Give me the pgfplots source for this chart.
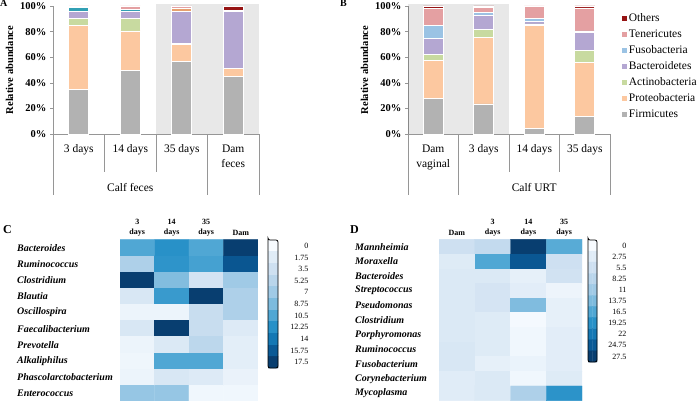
\documentclass[border=0pt]{standalone}
\usepackage{fontspec}
\setmainfont{Liberation Serif}
\usepackage{pgfplots}
\pgfplotsset{compat=1.18}
\definecolor{firm}{RGB}{178,178,178}
\definecolor{proteo}{RGB}{252,200,160}
\definecolor{actino}{RGB}{200,218,160}
\definecolor{bacter}{RGB}{180,167,210}
\definecolor{fuso}{RGB}{155,195,228}
\definecolor{teneri}{RGB}{228,160,162}
\definecolor{others}{RGB}{150,20,20}
\definecolor{tealA}{RGB}{50,160,180}
\definecolor{orangeA}{RGB}{230,160,110}
\definecolor{axgray}{RGB}{150,150,150}
\pgfplotsset{
  colormap={heat}{rgb255(0)=(247,251,255) rgb255(1)=(247,251,255)
    rgb255(3)=(224,236,247) rgb255(5)=(206,224,241) rgb255(7)=(185,213,235)
    rgb255(9)=(160,202,230) rgb255(11)=(125,187,222) rgb255(13)=(80,167,212)
    rgb255(15)=(40,145,200) rgb255(17)=(20,120,180) rgb255(19)=(10,90,150)
    rgb255(21)=(8,62,112) rgb255(22)=(8,62,112)},
  sqleg/.style={legend image code/.code={\path[##1,draw=none] (0pt,-2.3pt) rectangle (4.6pt,2.3pt);}},
  barax/.style={scale only axis, height=128pt, ybar stacked, bar width=20pt,
    ymin=0, ymax=100, xmin=-0.5, xmax=3.5, clip=false,
    axis x line*=bottom, axis y line*=left, axis line style={axgray,-},
    xtick={0,1,2,3}, x tick style={draw=none},
    ytick={0,20,40,60,80,100}, yticklabels={0\%,20\%,40\%,60\%,80\%,100\%},
    y tick style={axgray}, tick align=outside, major tick length=3pt,
    yticklabel style={font=\fontsize{10.5}{12}\selectfont\bfseries},
    xticklabel style={font=\fontsize{11.5}{15}\selectfont, align=center, yshift=-4pt},
    ylabel={Relative abundance},
    ylabel style={font=\fontsize{10.5}{12}\selectfont\bfseries},
    every axis plot/.append style={draw=white, line width=0.8pt}},
  heat/.style={scale only axis, enlargelimits=false, xmin=-0.5, xmax=3.5,
    y dir=reverse, axis line style={draw=none}, tick style={draw=none},
    xtick={0,1,2,3}, xticklabel pos=upper,
    xticklabel style={align=center, font=\fontsize{8}{10}\selectfont\bfseries},
    yticklabel style={anchor=west, font=\fontsize{10}{12}\selectfont\bfseries\itshape},
    colormap name=heat},
  cbar/.style={scale only axis, enlargelimits=false, xmin=-0.5, xmax=1.5,
    ymin=-0.5, ymax=10.5, y dir=reverse, xtick=\empty, ytick={0,...,10},
    yticklabel pos=right, tick style={draw=none}, axis on top,
    axis line style={line width=0.8pt, rounded corners=2pt},
    yticklabel style={anchor=east, font=\fontsize{8}{9}\selectfont},
    colormap name=heat},
}
\begin{document}
\begin{tikzpicture}
\useasboundingbox (0pt,0pt) rectangle (700pt,400pt);
% ---------------- Panel A
\begin{axis}[barax, at={(53pt,266pt)}, anchor=south west, width=206pt,
  xticklabels={3 days,14 days,35 days,{Dam\\feces}}]
\addplot[fill=firm] coordinates {(0,35) (1,50) (2,56.5) (3,45)};
\addplot[fill=proteo] coordinates {(0,50) (1,30.5) (2,13.5) (3,6)};
\addplot[fill=actino] coordinates {(0,5) (1,9.5) (2,0.5) (3,0)};
\addplot[fill=bacter] coordinates {(0,5.5) (1,5.5) (2,25) (3,44.5)};
\addplot[fill=tealA] coordinates {(0,3.5) (1,2) (2,0) (3,0)};
\addplot[fill=orangeA] coordinates {(0,0) (1,0) (2,2.5) (3,0)};
\addplot[fill=teneri] coordinates {(0,1) (1,2.5) (2,2) (3,1)};
\addplot[fill=others] coordinates {(0,0) (1,0) (2,0) (3,3.5)};
\fill[black, opacity=0.09] (axis cs:1.5,0) rectangle (axis cs:3.5,101.5);
\draw[axgray] (axis cs:-0.5,0) -- ++(0pt,-61pt);
\draw[axgray] (axis cs:0.5,0) -- ++(0pt,-38pt);
\draw[axgray] (axis cs:1.5,0) -- ++(0pt,-38pt);
\draw[axgray] (axis cs:2.5,0) -- ++(0pt,-61pt);
\draw[axgray] (axis cs:3.5,0) -- ++(0pt,-61pt);
\node[font=\fontsize{11.5}{13}\selectfont] at (axis cs:1,0) [yshift=-54pt] {Calf feces};
\end{axis}
% ---------------- Panel B
\begin{axis}[barax, at={(408pt,266pt)}, anchor=south west, width=202pt,
  xticklabels={{Dam\\vaginal},3 days,14 days,35 days},
  reverse legend, legend cell align=left,
  legend style={at={(1.06,0.955)}, anchor=north west, draw=none, fill=none,
    font=\fontsize{11.5}{13}\selectfont, row sep=2.6pt, inner sep=0pt}]
\addplot[fill=firm, sqleg] coordinates {(0,27.5) (1,23.5) (2,4) (3,14)};
\addplot[fill=proteo, sqleg] coordinates {(0,30) (1,52) (2,80.5) (3,42)};
\addplot[fill=actino, sqleg] coordinates {(0,4.5) (1,6) (2,1.5) (3,9.5)};
\addplot[fill=bacter, sqleg] coordinates {(0,12.5) (1,11.5) (2,2) (3,13.5)};
\addplot[fill=fuso, sqleg] coordinates {(0,10.5) (1,2) (2,2) (3,1.5)};
\addplot[fill=teneri, sqleg] coordinates {(0,13) (1,3.7) (2,10) (3,18)};
\addplot[fill=others, sqleg] coordinates {(0,2) (1,1.3) (2,0) (3,1.5)};
\legend{Firmicutes,Proteobacteria,Actinobacteria,Bacteroidetes,Fusobacteria,Tenericutes,Others}
\fill[black, opacity=0.09] (axis cs:-0.5,0) rectangle (axis cs:1.5,101.5);
\draw[axgray] (axis cs:-0.5,0) -- ++(0pt,-61pt);
\draw[axgray] (axis cs:0.5,0) -- ++(0pt,-61pt);
\draw[axgray] (axis cs:1.5,0) -- ++(0pt,-38pt);
\draw[axgray] (axis cs:2.5,0) -- ++(0pt,-38pt);
\draw[axgray] (axis cs:3.5,0) -- ++(0pt,-61pt);
\node[font=\fontsize{11.5}{13}\selectfont] at (axis cs:2,0) [yshift=-54pt] {Calf URT};
\end{axis}
% ---------------- Panel C heatmap
\begin{axis}[heat, at={(120pt,-1.4pt)}, anchor=south west, width=138pt, height=161.8pt,
  ymin=-0.5, ymax=9.5, ytick={0,...,9},
  yticklabel style={xshift=-106.3pt},
  yticklabels={Bacteroides,Ruminococcus,Clostridium,Blautia,Oscillospira,Faecalibacterium,Prevotella,Alkaliphilus,Phascolarctobacterium,Enterococcus},
  xticklabels={{3\\days},{14\\days},{35\\days},{Dam}},
  point meta min=-0.875, point meta max=18.375]
\addplot[matrix plot*, mesh/cols=4, point meta=explicit] table[meta=c] {
x y c
0 0 10.5
1 0 12.25
2 0 10.5
3 0 17.5
0 1 6
1 1 12
2 1 11
3 1 16
0 2 17.5
1 2 8.5
2 2 3
3 2 7
0 3 2.5
1 3 11.5
2 3 17.5
3 3 6
0 4 0.8
1 4 0.8
2 4 4
3 4 6
0 5 2.5
1 5 17.5
2 5 4
3 5 2
0 6 0.8
1 6 2.2
2 6 5
3 6 1.5
0 7 0.6
1 7 10.5
2 7 10.5
3 7 1.5
0 8 0.8
1 8 2.5
2 8 2
3 8 1
0 9 7.5
1 9 7.5
2 9 0.5
3 9 0.5
};
\end{axis}
\begin{axis}[cbar, at={(268pt,160pt)}, anchor=north west, width=10pt, height=128pt,
  yticklabel style={xshift=34pt},
  yticklabels={0,1.75,3.5,5.25,7,8.75,10.5,12.25,14,15.75,17.5},
  point meta min=-0.875, point meta max=18.375]
\addplot[matrix plot*, mesh/cols=2, point meta=explicit] table[meta=c] {
x y c
0 0 0
1 0 0
0 1 1.75
1 1 1.75
0 2 3.5
1 2 3.5
0 3 5.25
1 3 5.25
0 4 7
1 4 7
0 5 8.75
1 5 8.75
0 6 10.5
1 6 10.5
0 7 12.25
1 7 12.25
0 8 14
1 8 14
0 9 15.75
1 9 15.75
0 10 17.5
1 10 17.5
};
\end{axis}
% ---------------- Panel D heatmap
\begin{axis}[heat, at={(439pt,-0.6pt)}, anchor=south west, width=143pt, height=161.2pt,
  ymin=-0.5, ymax=10.5, ytick={0,...,10},
  yticklabel style={xshift=-87.3pt},
  yticklabels={Mannheimia,Moraxella,Bacteroides,Streptococcus,Pseudomonas,Clostridium,Porphyromonas,Ruminococcus,Fusobacterium,Corynebacterium,Mycoplasma},
  xticklabels={{Dam},{3\\days},{14\\days},{35\\days}},
  point meta min=-1.375, point meta max=28.875]
\addplot[matrix plot*, mesh/cols=4, point meta=explicit] table[meta=c] {
x y c
0 0 5.5
1 0 7
2 0 27.5
3 0 16
0 1 3
1 1 16.5
2 1 25
3 1 5.5
0 2 3.5
1 2 3.5
2 2 2
3 2 5
0 3 3.5
1 3 4.5
2 3 2.5
3 3 1.2
0 4 3.5
1 4 4.5
2 4 13.5
3 4 2
0 5 3.5
1 5 3
2 5 0.3
3 5 2
0 6 3.5
1 6 3
2 6 0.8
3 6 2.5
0 7 4
1 7 3
2 7 0.8
3 7 2.5
0 8 4
1 8 2
2 8 1.5
3 8 2.5
0 9 2.8
1 9 3.5
2 9 0.8
3 9 3
0 10 2.8
1 10 3.5
2 10 9.5
3 10 19
};
\end{axis}
\begin{axis}[cbar, at={(588pt,160pt)}, anchor=north west, width=9pt, height=122pt,
  yticklabel style={xshift=33pt},
  yticklabels={0,2.75,5.5,8.25,11,13.75,16.5,19.25,22,24.75,27.5},
  point meta min=-1.375, point meta max=28.875]
\addplot[matrix plot*, mesh/cols=2, point meta=explicit] table[meta=c] {
x y c
0 0 0
1 0 0
0 1 2.75
1 1 2.75
0 2 5.5
1 2 5.5
0 3 8.25
1 3 8.25
0 4 11
1 4 11
0 5 13.75
1 5 13.75
0 6 16.5
1 6 16.5
0 7 19.25
1 7 19.25
0 8 22
1 8 22
0 9 24.75
1 9 24.75
0 10 27.5
1 10 27.5
};
\end{axis}
% ---------------- panel letters
\node[font=\fontsize{10}{10}\selectfont\bfseries, anchor=north west, inner sep=0pt] at (0pt,400pt) {A};
\node[font=\fontsize{10}{10}\selectfont\bfseries, anchor=north west, inner sep=0pt] at (340pt,400pt) {B};
\node[font=\fontsize{12}{12}\selectfont\bfseries, anchor=north west, inner sep=0pt] at (3pt,175pt) {C};
\node[font=\fontsize{12}{12}\selectfont\bfseries, anchor=north west, inner sep=0pt] at (350pt,175pt) {D};
\end{tikzpicture}
\end{document}
